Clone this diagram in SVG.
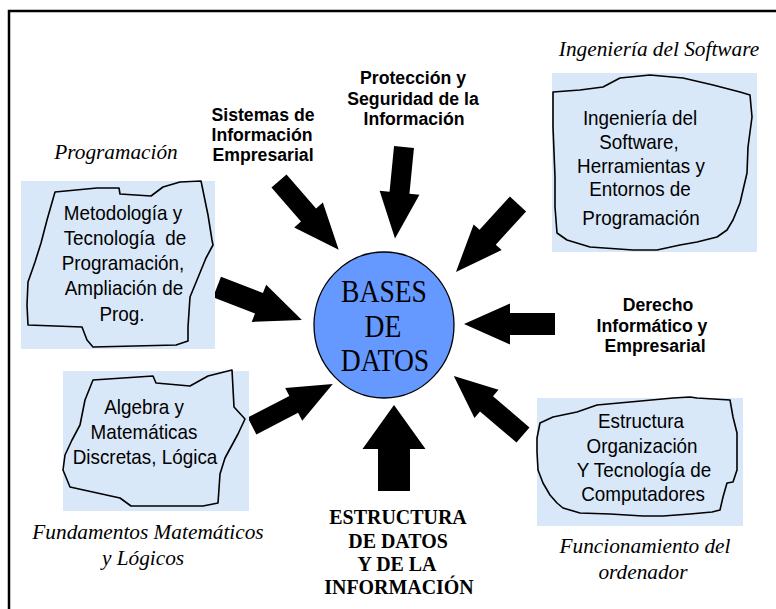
<svg xmlns="http://www.w3.org/2000/svg" width="776" height="609" viewBox="0 0 776 609">
<style>
.bg{fill:#d9e8f8}
.ol{fill:none;stroke:#000;stroke-width:1.6;stroke-linejoin:round}
.arr{fill:#000}
.it{font-family:"Liberation Serif","Times New Roman",serif;font-style:italic;font-size:21.3px;text-anchor:middle;fill:#000}
.bx{font-family:"Liberation Sans",Arial,sans-serif;font-size:20.5px;text-anchor:middle;fill:#000}
.bs{font-family:"Liberation Sans",Arial,sans-serif;font-weight:bold;font-size:19px;text-anchor:middle;fill:#000}
.bsr{font-family:"Liberation Serif","Times New Roman",serif;font-weight:bold;font-size:21px;text-anchor:middle;fill:#000}
.db{font-family:"Liberation Serif","Times New Roman",serif;font-size:31px;text-anchor:middle;fill:#000}
</style>
<rect width="776" height="609" fill="#fff"/>
<path d="M9,609 V11 H776" fill="none" stroke="#000" stroke-width="2.5"/>

<g id="connectors">
<polygon class="arr" transform="translate(404 147) rotate(95.6)" points="0,-10 46,-10 46,-20 92,0 46,20 46,10 0,10"/>
<polygon class="arr" transform="translate(279 181) rotate(49)" points="0,-10 45,-10 45,-19 91,0 45,19 45,10 0,10"/>
<polygon class="arr" transform="translate(518 204) rotate(132.4)" points="0,-11 45,-11 45,-19 92,0 45,19 45,11 0,11"/>
<polygon class="arr" transform="translate(217 287) rotate(21.2)" points="0,-11 45,-11 45,-20 91,0 45,20 45,11 0,11"/>
<polygon class="arr" transform="translate(555 324) rotate(180)" points="0,-11 45,-11 45,-20.5 91,0 45,20.5 45,11 0,11"/>
<polygon class="arr" transform="translate(252 426) rotate(-27.4)" points="0,-9.5 47,-9.5 47,-18.5 91,0 47,18.5 47,9.5 0,9.5"/>
<polygon class="arr" transform="translate(394 491) rotate(-90)" points="0,-16 42,-16 42,-31.5 86,0 42,31.5 42,16 0,16"/>
<polygon class="arr" transform="translate(523 435) rotate(-139.5)" points="0,-10 48,-10 48,-18.5 91,0 48,18.5 48,10 0,10"/>
</g>

<g id="bases-de-datos">
<ellipse cx="384" cy="325" rx="70" ry="73" fill="#6699ff" stroke="#000" stroke-width="1.3"/>
<text class="db" transform="translate(384 302) scale(0.89 1)">BASES</text>
<text class="db" transform="translate(383 337) scale(0.89 1)">DE</text>
<text class="db" transform="translate(385 371) scale(0.89 1)">DATOS</text>
</g>

<g id="programacion">
<rect class="bg" x="21" y="181" width="194" height="168"/>
<path class="ol" d="M55,192 L97,188 L119,188 L120,194 L151,196 L163,187 L180,182 L201,181 L208,215 L212,240 L213,245 L206,258 L197,280 L190,297 L188,327 L188,341 L176,345 L93,347 L87,340 L82,327 L28,325 L27,305 L28,282 L35,262 L41,243 L47,220 Z"/>
<text class="bx" transform="translate(123 220) scale(0.92 1)">Metodología y</text>
<text class="bx" transform="translate(125 245) scale(0.92 1)" xml:space="preserve">Tecnología  de</text>
<text class="bx" transform="translate(123 270) scale(0.92 1)">Programación,</text>
<text class="bx" transform="translate(124 295) scale(0.92 1)">Ampliación de</text>
<text class="bx" transform="translate(122 321) scale(0.92 1)">Prog.</text>
<text class="it" x="116" y="159">Programación</text>
</g>

<g id="ingenieria">
<rect class="bg" x="552" y="73" width="205" height="179"/>
<path class="ol" d="M553,92 L580,90 L603,87 L620,78 L650,75 L683,78 L713,85 L740,92 L750,95 L752,117 L748,147 L747,173 L740,203 L733,220 L727,230 L717,237 L697,242 L680,245 L657,250 L633,250 L590,247 L567,240 L557,233 L555,207 L555,177 L553,127 Z"/>
<text class="bx" transform="translate(640 125) scale(0.92 1)">Ingeniería del</text>
<text class="bx" transform="translate(639 149) scale(0.92 1)">Software,</text>
<text class="bx" transform="translate(641 173) scale(0.92 1)">Herramientas y</text>
<text class="bx" transform="translate(640 196) scale(0.92 1)">Entornos de</text>
<text class="bx" transform="translate(641 225) scale(0.92 1)">Programación</text>
<text class="it" x="659" y="56">Ingeniería del Software</text>
</g>

<g id="fundamentos">
<rect class="bg" x="63" y="371" width="186" height="140"/>
<path class="ol" d="M93,380 L153,376 L156,383 L190,386 L208,376 L232,370 L234,407 L245,419 L238,434 L225,458 L220,474 L218,503 L203,506 L131,506 L120,498 L70,487 L63,470 L65,455 L72,440 L80,425 L85,400 Z"/>
<text class="bx" transform="translate(144 414) scale(0.92 1)">Algebra y</text>
<text class="bx" transform="translate(144 439) scale(0.92 1)">Matemáticas</text>
<text class="bx" transform="translate(145 464) scale(0.92 1)">Discretas, Lógica</text>
<text class="it" x="148" y="539">Fundamentos Matemáticos</text>
<text class="it" x="143" y="565">y Lógicos</text>
</g>

<g id="funcionamiento">
<rect class="bg" x="537" y="398" width="206" height="128"/>
<path class="ol" d="M540,423 L553,417 L577,412 L597,405 L630,402 L673,398 L690,397 L697,398 L730,400 L733,417 L737,433 L737,470 L733,482 L727,483 L723,497 L720,510 L712,512 L690,514 L663,516 L643,516 L610,514 L580,513 L563,508 L557,503 L550,495 L543,483 L538,470 L537,452 L537,438 Z"/>
<text class="bx" transform="translate(641 428) scale(0.92 1)">Estructura</text>
<text class="bx" transform="translate(642 453) scale(0.92 1)">Organización</text>
<text class="bx" transform="translate(644 477) scale(0.92 1)">Y Tecnología de</text>
<text class="bx" transform="translate(643 501) scale(0.92 1)">Computadores</text>
<text class="it" x="645" y="553">Funcionamiento del</text>
<text class="it" x="643" y="579">ordenador</text>
</g>

<g id="sistemas">
<text class="bs" transform="translate(263 121) scale(0.93 1)">Sistemas de</text>
<text class="bs" transform="translate(262 141) scale(0.93 1)">Información</text>
<text class="bs" transform="translate(263 161) scale(0.93 1)">Empresarial</text>
</g>

<g id="proteccion">
<text class="bs" transform="translate(413 84) scale(0.93 1)">Protección y</text>
<text class="bs" transform="translate(413 105) scale(0.93 1)">Seguridad de la</text>
<text class="bs" transform="translate(414 125) scale(0.93 1)">Información</text>
</g>

<g id="derecho">
<text class="bs" transform="translate(658 311) scale(0.93 1)">Derecho</text>
<text class="bs" transform="translate(652 332) scale(0.93 1)">Informático y</text>
<text class="bs" transform="translate(655 352) scale(0.93 1)">Empresarial</text>
</g>

<g id="estructura-datos">
<text class="bsr" transform="translate(398 524) scale(0.95 1)">ESTRUCTURA</text>
<text class="bsr" transform="translate(398 548) scale(0.95 1)">DE DATOS</text>
<text class="bsr" transform="translate(397 571) scale(0.95 1)">Y DE LA</text>
<text class="bsr" transform="translate(399 594) scale(0.95 1)">INFORMACIÓN</text>
</g>
</svg>
